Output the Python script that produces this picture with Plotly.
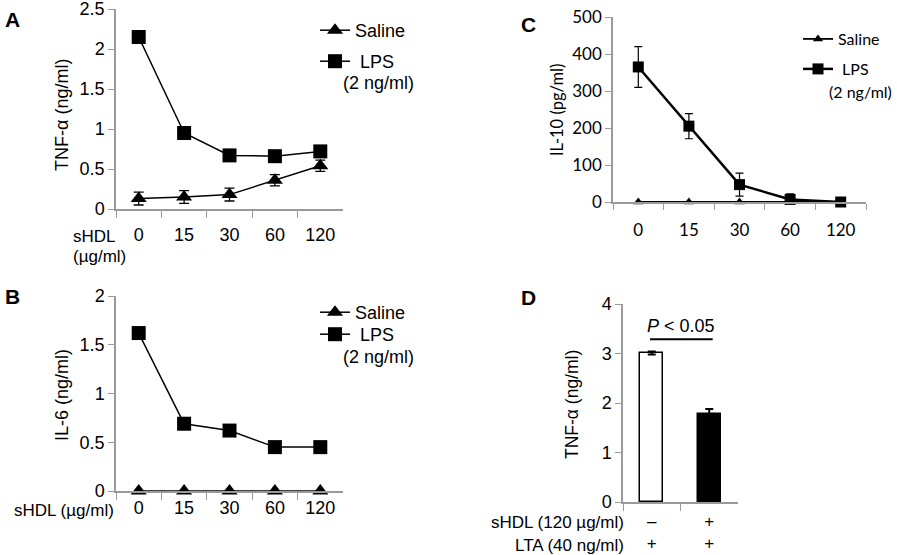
import plotly.graph_objects as go

W, H = 897, 555

# ---------------- data ----------------
shdl_cats = ["0", "15", "30", "60", "120"]

a_lps = [2.15, 0.95, 0.67, 0.66, 0.72]
a_lps_err = [0.03, 0.04, 0.02, 0.02, 0.04]
a_saline = [0.13, 0.15, 0.18, 0.36, 0.54]
a_saline_err = [0.08, 0.08, 0.08, 0.07, 0.07]

b_lps = [1.62, 0.69, 0.62, 0.45, 0.45]
b_lps_err = [0.02, 0.02, 0.02, 0.05, 0.02]
b_saline = [0.0, 0.0, 0.0, 0.0, 0.0]

c_lps = [365, 205, 47, 7, 0]
c_lps_err = [55, 34, 31, 15, 0]
c_saline = [0, 0, 0, 0, 0]

d_cats = ["no_sHDL", "sHDL"]
d_shdl_marks = ["–", "+"]
d_lta_marks = ["+", "+"]
d_vals = [3.01, 1.78]
d_err_up = [0.03, 0.10]
d_err_down = [0.03, 0.0]

# -------------- helpers ---------------
def xd(px0, px1):
    return [px0 / W, px1 / W]

def yd(py_bottom, py_top):
    return [1 - py_bottom / H, 1 - py_top / H]

ARIAL = "Arial, Liberation Sans, sans-serif"
CAL = "Lato, Open Sans, sans-serif"
AXC = "#9a9a9a"

fig = go.Figure()

# Panel A
fig.add_trace(go.Scatter(x=shdl_cats, y=a_saline, name="Saline", mode="lines+markers",
                         line=dict(color="black", width=1.5),
                         marker=dict(symbol="triangle-up", size=14, color="black"),
                         error_y=dict(type="data", array=a_saline_err, color="black", thickness=1.3, width=5),
                         xaxis="x", yaxis="y", legend="legend"))
fig.add_trace(go.Scatter(x=shdl_cats, y=a_lps, name="&nbsp;LPS", mode="lines+markers",
                         line=dict(color="black", width=1.5),
                         marker=dict(symbol="square", size=14, color="black"),
                         error_y=dict(type="data", array=a_lps_err, color="black", thickness=1.3, width=5),
                         xaxis="x", yaxis="y", legend="legend2"))
# Panel B
fig.add_trace(go.Scatter(x=shdl_cats, y=b_saline, name="Saline", mode="lines+markers",
                         line=dict(color="black", width=1.5),
                         marker=dict(symbol="triangle-up", size=14, color="black"),
                         xaxis="x2", yaxis="y2", legend="legend3", cliponaxis=False))
fig.add_trace(go.Scatter(x=shdl_cats, y=b_lps, name="&nbsp;LPS", mode="lines+markers",
                         line=dict(color="black", width=1.5),
                         marker=dict(symbol="square", size=14, color="black"),
                         error_y=dict(type="data", array=b_lps_err, color="black", thickness=1.3, width=5),
                         xaxis="x2", yaxis="y2", legend="legend4"))
# Panel C
fig.add_trace(go.Scatter(x=shdl_cats, y=c_saline, name="Saline", mode="lines+markers",
                         line=dict(color="black", width=1.8),
                         marker=dict(symbol="triangle-up", size=9, color="black"),
                         xaxis="x3", yaxis="y3", legend="legend5", cliponaxis=False))
fig.add_trace(go.Scatter(x=shdl_cats, y=c_lps, name="&nbsp;LPS", mode="lines+markers",
                         line=dict(color="black", width=2.5),
                         marker=dict(symbol="square", size=11, color="black"),
                         error_y=dict(type="data", array=c_lps_err, color="black", thickness=1.2, width=4),
                         xaxis="x3", yaxis="y3", legend="legend6", cliponaxis=False))
# Panel D
fig.add_trace(go.Bar(x=d_cats, y=d_vals, width=0.4,
                     marker=dict(color=["white", "black"], line=dict(color="black", width=1.5)),
                     error_y=dict(type="data", symmetric=False, array=d_err_up, arrayminus=d_err_down,
                                  color="black", thickness=2, width=4),
                     xaxis="x4", yaxis="y4", showlegend=False))

xax_common = dict(type="category", showline=True, linecolor=AXC, linewidth=1.5,
                  ticks="outside", tickson="boundaries", tickcolor=AXC, ticklen=7,
                  showgrid=False, zeroline=False, automargin=False,
                  tickfont=dict(family=ARIAL, size=18, color="black"))
yax_common = dict(showline=True, linecolor=AXC, linewidth=1.5, ticks="outside", tickcolor=AXC,
                  ticklen=6, showgrid=False, zeroline=False, automargin=False,
                  ticklabeloverflow="allow",
                  tickfont=dict(family=ARIAL, size=18, color="black"))

def leg(px_left, py_center, family=ARIAL, size=18):
    return dict(x=px_left / W, y=1 - (py_center - 18) / H, xanchor="left", yanchor="top",
                valign="middle", font=dict(family=family, size=size, color="black"),
                bgcolor="rgba(0,0,0,0)")

fig.update_layout(
    width=W, height=H, margin=dict(l=0, r=0, t=0, b=0, autoexpand=False),
    paper_bgcolor="white", plot_bgcolor="white", bargap=0,
    xaxis=dict(xax_common, domain=xd(116, 343), range=[-0.5, 4.5], ticklabelstandoff=9, anchor="y"),
    yaxis=dict(yax_common, domain=yd(209, 9), range=[0, 2.5], dtick=0.5, anchor="x"),
    xaxis2=dict(xax_common, domain=xd(116, 343), range=[-0.5, 4.5], anchor="y2"),
    yaxis2=dict(yax_common, domain=yd(491, 296), range=[0, 2], dtick=0.5, anchor="x2"),
    xaxis3=dict(xax_common, domain=xd(613, 866), range=[-0.5, 4.5], anchor="y3", ticklabelstandoff=12,
                tickfont=dict(family=CAL, size=17, color="black"), ticklen=6),
    yaxis3=dict(yax_common, domain=yd(202, 17), range=[0, 500], dtick=100, anchor="x3",
                tickfont=dict(family=CAL, size=17, color="black")),
    xaxis4=dict(xax_common, domain=xd(623, 738), range=[-0.5, 1.5], anchor="y4",
                tickvals=d_cats, ticklabelstandoff=3,
                ticktext=[f"{s}<br>{l}" for s, l in zip(d_shdl_marks, d_lta_marks)],
                tickfont=dict(family=ARIAL, size=17, color="black")),
    yaxis4=dict(yax_common, domain=yd(502, 304), range=[0, 4], dtick=1, anchor="x4"),
    showlegend=True,
    legend=leg(315, 30),
    legend2=leg(315, 61),
    legend3=leg(315, 312),
    legend4=leg(315, 334),
    legend5=leg(798, 40, CAL, 16),
    legend6=leg(798, 70, CAL, 16),
)

def ann(px, py, text, size=16, family=ARIAL, angle=0, xanchor="center", bold=False):
    if bold:
        text = f"<b>{text}</b>"
    fig.add_annotation(x=px / W, y=1 - py / H, xref="paper", yref="paper", text=text,
                       showarrow=False, textangle=angle, xanchor=xanchor, yanchor="middle",
                       font=dict(family=family, size=size, color="black"))

# panel letters
ann(12, 20, "A", size=21, bold=True)
ann(12, 296, "B", size=21, bold=True)
ann(528, 25, "C", size=21, bold=True)
ann(528, 297, "D", size=21, bold=True)

# legend second lines
ann(378, 83, "(2 ng/ml)", size=18)
ann(378, 357, "(2 ng/ml)", size=18)
ann(860, 91, "(2 ng/ml)", size=16, family=CAL)

# y titles
ann(62, 115, "TNF-α (ng/ml)", size=18, angle=-90)
ann(62, 395, "IL-6 (ng/ml)", size=18, angle=-90)
ann(557, 110, "IL-10 (pg/ml)", size=16.5, family=CAL, angle=-90)
ann(572, 405, "TNF-α (ng/ml)", size=17.5, angle=-90)

# x axis labels
ann(71, 236, "sHDL", size=17, xanchor="left")
ann(71, 257, "(µg/ml)", size=17, xanchor="left")
ann(116, 510, "sHDL (µg/ml)", size=17, xanchor="right")
ann(626, 522, "sHDL (120 µg/ml)", size=17, xanchor="right")
ann(626, 545, "LTA (40 ng/ml)", size=17, xanchor="right")

# significance
fig.add_annotation(x=0.5, y=3.55, xref="x4", yref="y4", text="<i>P</i> < 0.05", showarrow=False,
                   font=dict(family=ARIAL, size=18, color="black"))
fig.add_shape(type="line", x0=-0.03, x1=1.06, y0=3.29, y1=3.29, xref="x4", yref="y4",
              line=dict(color="black", width=2))

fig.write_html("out.html", config={"displayModeBar": False},
               post_script="document.body.style.margin='0';document.body.style.overflow='hidden';")
